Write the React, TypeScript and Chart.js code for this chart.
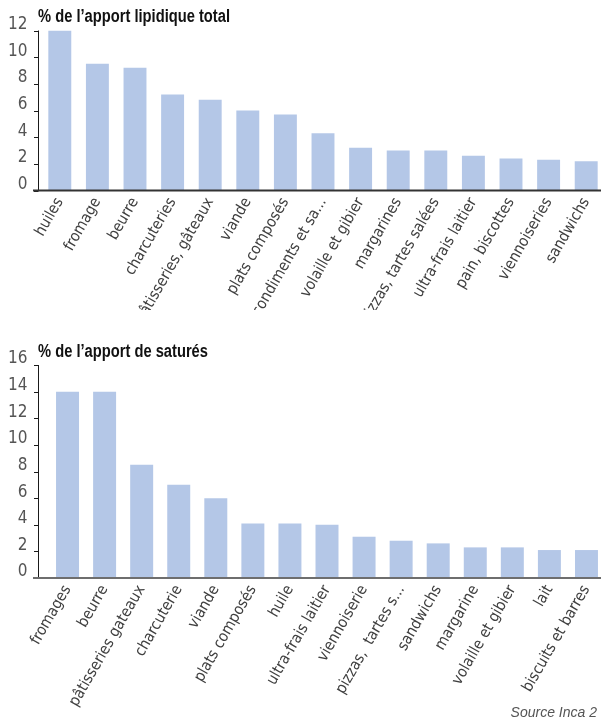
import React, { useEffect, useRef } from "react";
import { Chart, registerables } from "chart.js";

Chart.register(...registerables);

// ---------- data ----------
const lipidTitle = "% de l’apport lipidique total";
const lipidCategories = [
  "huiles",
  "fromage",
  "beurre",
  "charcuteries",
  "pâtisseries, gâteaux",
  "viande",
  "plats composés",
  "condiments et sa...",
  "volaille et gibier",
  "margarines",
  "pizzas, tartes salées",
  "ultra-frais laitier",
  "pain, biscottes",
  "viennoiseries",
  "sandwichs",
];
const lipidValues = [12.0, 9.5, 9.2, 7.2, 6.8, 6.0, 5.7, 4.3, 3.2, 3.0, 3.0, 2.6, 2.4, 2.3, 2.2];
const lipidTickMax = 12;
const lipidTickStep = 2;

const saturTitle = "% de l’apport de saturés";
const saturCategories = [
  "fromages",
  "beurre",
  "pâtisseries gateaux",
  "charcuterie",
  "viande",
  "plats composés",
  "huile",
  "ultra-frais laitier",
  "viennoiserie",
  "pizzas,  tartes s...",
  "sandwichs",
  "margarine",
  "volaille et gibier",
  "lait",
  "biscuits et barres",
];
const saturValues = [14.0, 14.0, 8.5, 7.0, 6.0, 4.1, 4.1, 4.0, 3.1, 2.8, 2.6, 2.3, 2.3, 2.1, 2.1];
const saturTickMax = 16;
const saturTickStep = 2;

const sourceText = "Source Inca 2";

// ---------- styles ----------
const NARROW = "'DejaVu Sans Condensed', 'DejaVu Sans', sans-serif";
const TITLE_FONT = "bold 18px 'Liberation Sans', Arial, sans-serif";
const BAR_COLOR = "#b4c7e7";

type Cfg = {
  labels: string[];
  values: number[];
  max: number;
  step: number;
  title: string;
  width: number;
  height: number;
  plotLeft: number;
  plotTop: number;
  xAxisHeight: number;
  padRight: number;
  axisX: number;
  titleY: number;
  barPct: number;
  xLineColor: string;
  labelPad: number;
};

const refAxesPlugin = {
  id: "refAxes",
  afterDraw(chart: any) {
    const o = chart.options.plugins.refAxes;
    if (!o) return;
    const { ctx, chartArea } = chart;
    const y = chart.scales.y;
    ctx.save();
    // y axis line
    ctx.strokeStyle = "#1a1a1a";
    ctx.lineWidth = 1;
    ctx.beginPath();
    ctx.moveTo(o.axisX + 0.5, chartArea.top);
    ctx.lineTo(o.axisX + 0.5, chartArea.bottom);
    ctx.stroke();
    // y tick marks
    y.ticks.forEach((t: any) => {
      const py = Math.round(y.getPixelForValue(t.value)) + 0.5;
      ctx.beginPath();
      ctx.moveTo(o.axisX - 4, py);
      ctx.lineTo(o.axisX + 0.5, py);
      ctx.stroke();
    });
    // x axis line
    ctx.strokeStyle = o.xLineColor;
    ctx.lineWidth = 2;
    ctx.beginPath();
    ctx.moveTo(o.axisX - 5, chartArea.bottom);
    ctx.lineTo(chart.width, chartArea.bottom);
    ctx.stroke();
    // title (narrow bold look)
    ctx.fillStyle = "#111";
    ctx.font = TITLE_FONT;
    ctx.textAlign = "left";
    ctx.textBaseline = "alphabetic";
    ctx.translate(o.axisX, o.titleY);
    ctx.scale(0.817, 1);
    ctx.fillText(o.title, 0, 0);
    ctx.restore();
  },
};

function BarPanel(props: { cfg: Cfg; top: number }) {
  const ref = useRef<HTMLCanvasElement>(null);
  const c = props.cfg;
  useEffect(() => {
    if (!ref.current) return;
    const chart = new Chart(ref.current, {
      type: "bar",
      data: {
        labels: c.labels,
        datasets: [
          {
            data: c.values,
            backgroundColor: BAR_COLOR,
            borderWidth: 0,
            barPercentage: c.barPct,
            categoryPercentage: 1,
          },
        ],
      },
      options: {
        responsive: false,
        animation: false,
        devicePixelRatio: 1,
        layout: { padding: { top: c.plotTop, right: c.padRight, left: 0, bottom: 0 } },
        plugins: {
          legend: { display: false },
          tooltip: { enabled: false },
          title: { display: false },
          refAxes: {
            axisX: c.axisX,
            title: c.title,
            titleY: c.titleY,
            xLineColor: c.xLineColor,
          },
        } as any,
        scales: {
          x: {
            grid: { display: false, drawTicks: false },
            border: { display: false },
            ticks: {
              autoSkip: false,
              minRotation: 60,
              maxRotation: 60,
              padding: c.labelPad,
              color: "#404040",
              font: { family: NARROW, size: 15.5 },
            },
            afterFit(scale: any) {
              scale.height = c.xAxisHeight;
            },
          },
          y: {
            min: 0,
            max: c.max,
            grid: { display: false, drawTicks: false },
            border: { display: false },
            ticks: {
              stepSize: c.step,
              padding: c.plotLeft - 27.5,
              labelOffset: -6,
              color: "#555",
              font: { family: NARROW, size: 17 },
            },
            afterFit(scale: any) {
              scale.width = c.plotLeft;
            },
          },
        },
      },
      plugins: [refAxesPlugin],
    });
    return () => chart.destroy();
  }, []);
  return (
    <canvas
      ref={ref}
      width={c.width}
      height={c.height}
      style={{
        position: "absolute",
        left: 0,
        top: props.top,
        width: c.width,
        height: c.height,
      }}
    />
  );
}

const lipidCfg: Cfg = {
  labels: lipidCategories,
  values: lipidValues,
  max: lipidTickMax,
  step: lipidTickStep,
  title: lipidTitle,
  width: 620,
  height: 310,
  plotLeft: 41,
  plotTop: 30.5,
  xAxisHeight: 119.5,
  padRight: 15,
  axisX: 38,
  titleY: 22,
  barPct: 0.61,
  xLineColor: "#333",
  labelPad: 4,
};

const saturCfg: Cfg = {
  labels: saturCategories,
  values: saturValues,
  max: saturTickMax,
  step: saturTickStep,
  title: saturTitle,
  width: 620,
  height: 389,
  plotLeft: 49,
  plotTop: 35,
  xAxisHeight: 141,
  padRight: 15,
  axisX: 38,
  titleY: 27,
  barPct: 0.62,
  xLineColor: "#6e6e6e",
  labelPad: 4,
};

export default function App() {
  useEffect(() => {
    document.documentElement.style.overflow = "hidden";
    document.body.style.overflow = "hidden";
  }, []);
  return (
    <div
      style={{
        position: "fixed",
        left: 0,
        top: 0,
        width: 601,
        height: 719,
        overflow: "hidden",
        background: "#fff",
      }}
    >
      <BarPanel cfg={lipidCfg} top={0} />
      <BarPanel cfg={saturCfg} top={330} />
      <div
        style={{
          position: "absolute",
          right: 4,
          top: 704,
          fontFamily: "'Liberation Sans', Arial, sans-serif",
          fontStyle: "italic",
          fontSize: 14,
          lineHeight: "16px",
          color: "#555",
          whiteSpace: "nowrap",
        }}
      >
        {sourceText}
      </div>
    </div>
  );
}
